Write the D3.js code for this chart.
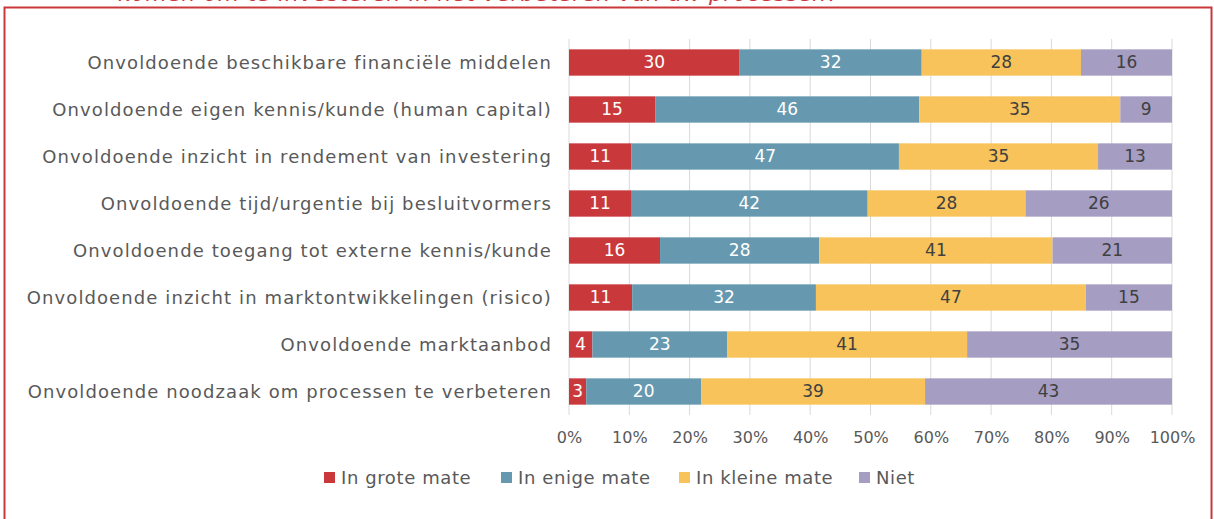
<!DOCTYPE html>
<html>
<head>
<meta charset="utf-8">
<script src="https://cdn.jsdelivr.net/npm/d3@7"></script>
<style>
  body { margin: 0; background: #fff; }
  text { font-family: "DejaVu Sans", sans-serif; }
</style>
</head>
<body>
<script>
var categories = [
  "Onvoldoende beschikbare financiële middelen",
  "Onvoldoende eigen kennis/kunde (human capital)",
  "Onvoldoende inzicht in rendement van investering",
  "Onvoldoende tijd/urgentie bij besluitvormers",
  "Onvoldoende toegang tot externe kennis/kunde",
  "Onvoldoende inzicht in marktontwikkelingen (risico)",
  "Onvoldoende marktaanbod",
  "Onvoldoende noodzaak om processen te verbeteren"
]
var seriesNames = ["In grote mate", "In enige mate", "In kleine mate", "Niet"]
var grote  = [30, 15, 11, 11, 16, 11, 4, 3]
var enige  = [32, 46, 47, 42, 28, 32, 23, 20]
var kleine = [28, 35, 35, 28, 41, 47, 41, 39]
var niet   = [16, 9, 13, 26, 21, 15, 35, 43]
var ticks = [0, 0.1, 0.2, 0.3, 0.4, 0.5, 0.6, 0.7, 0.8, 0.9, 1]

var colors = ["#c9393b", "#6699b0", "#f7c35a", "#a59dc2"]
var labelColors = ["#fff", "#fff", "#404040", "#404040"]

var svg = d3.select("body")
  .append("svg")
  .attr("width", 1214)
  .attr("height", 519)

// cut-off title from the slide
svg.append("text")
  .attr("x", 118)
  .attr("y", 1)
  .attr("fill", "#c9393b")
  .attr("font-size", 22)
  .attr("font-style", "italic")
  .attr("letter-spacing", 0.6)
  .text("komen om te investeren in het verbeteren van uw processen?")

svg.append("rect")
  .attr("x", 4.5).attr("y", 7.5)
  .attr("width", 1207).attr("height", 520)
  .attr("fill", "none")
  .attr("stroke", "#c9393b")
  .attr("stroke-width", 2)

var x = d3.scaleLinear().domain([0, 1]).range([569, 1172])
var y = d3.scaleBand().domain(categories).range([39, 415]).paddingInner(0.44).paddingOuter(0.22)

var rows = categories.map(function(c, i) {
  var vals = [grote[i], enige[i], kleine[i], niet[i]]
  var total = d3.sum(vals)
  var acc = 0
  return vals.map(function(v, j) {
    var seg = {cat: c, k: j, v: v, x0: acc / total, x1: (acc + v) / total}
    acc += v
    return seg
  })
})

// gridlines
svg.append("g")
  .selectAll("line")
  .data(ticks)
  .enter().append("line")
  .attr("x1", function(d) { return x(d) }).attr("x2", function(d) { return x(d) })
  .attr("y1", 39).attr("y2", 415)
  .attr("stroke", "#d9d9d9")
  .attr("stroke-width", 1)

// x axis labels
svg.append("g")
  .attr("transform", "translate(0,415)")
  .call(d3.axisBottom(x).tickValues(ticks).tickFormat(d3.format(".0%")).tickSize(0).tickPadding(17))
  .call(function(g) { g.select(".domain").remove() })
  .selectAll("text")
  .attr("font-size", 16)
  .attr("font-family", "DejaVu Sans")
  .attr("fill", "#595959")

// category labels
svg.append("g")
  .selectAll("text")
  .data(categories)
  .enter().append("text")
  .attr("x", 552)
  .attr("y", function(d) { return y(d) + y.bandwidth() / 2 })
  .attr("dy", "0.35em")
  .attr("text-anchor", "end")
  .attr("font-size", 18)
  .attr("letter-spacing", 1.1)
  .attr("fill", "#595959")
  .text(function(d) { return d })

var segs = svg.append("g")
  .selectAll("g")
  .data(d3.merge(rows))
  .enter().append("g")

segs.append("rect")
  .attr("x", function(d) { return x(d.x0) })
  .attr("width", function(d) { return x(d.x1) - x(d.x0) })
  .attr("y", function(d) { return y(d.cat) })
  .attr("height", y.bandwidth())
  .attr("fill", function(d) { return colors[d.k] })

segs.append("text")
  .attr("x", function(d) { return (x(d.x0) + x(d.x1)) / 2 })
  .attr("y", function(d) { return y(d.cat) + y.bandwidth() / 2 })
  .attr("dy", "0.35em")
  .attr("text-anchor", "middle")
  .attr("font-size", 17)
  .attr("fill", function(d) { return labelColors[d.k] })
  .text(function(d) { return d.v })

// legend
var legendX = [324, 501, 679, 859]
var legend = svg.append("g")
  .selectAll("g")
  .data(seriesNames)
  .enter().append("g")
  .attr("transform", function(d, i) { return "translate(" + legendX[i] + ",477)" })

legend.append("rect")
  .attr("x", 0).attr("y", -5)
  .attr("width", 11).attr("height", 11)
  .attr("fill", function(d, i) { return colors[i] })

legend.append("text")
  .attr("x", 17)
  .attr("dy", "0.38em")
  .attr("font-size", 18)
  .attr("letter-spacing", 0.6)
  .attr("fill", "#595959")
  .text(function(d) { return d })
</script>
</body>
</html>
